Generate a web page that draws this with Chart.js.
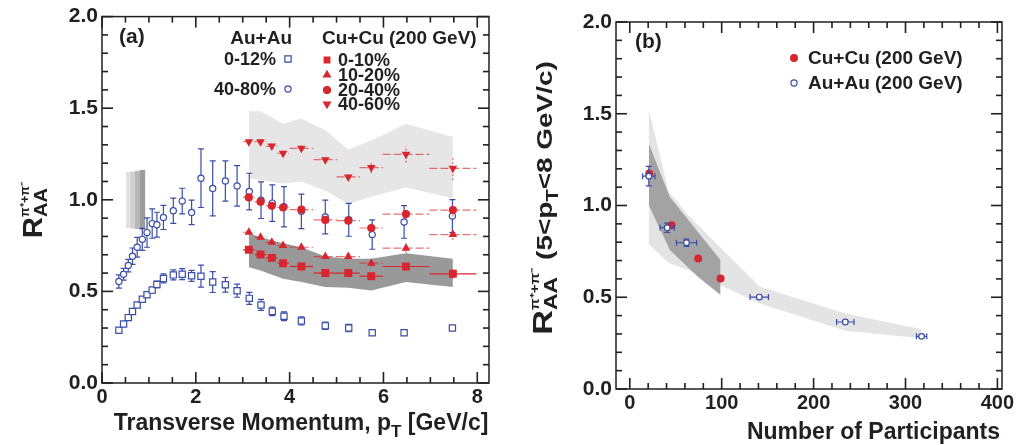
<!DOCTYPE html>
<html>
<head>
<meta charset="utf-8">
<script src="https://cdn.jsdelivr.net/npm/chart.js@4.4.1/dist/chart.umd.min.js"></script>
<style>
html, body { margin: 0; padding: 0; background: #fff; }
#wrap { position: relative; width: 1019px; height: 445px; overflow: hidden; }
#chartA { position: absolute; left: 0; top: 0; }
#chartB { position: absolute; left: 510px; top: 0; }
</style>
</head>
<body>
<div id="wrap">
  <canvas id="chartA" width="510" height="445"></canvas>
  <canvas id="chartB" width="509" height="445"></canvas>
</div>
<script>
// ---- panel (a): R_AA vs pT ----
const ptAu = [0.36, 0.46, 0.56, 0.65, 0.75, 0.86, 0.96, 1.07, 1.17, 1.31, 1.52, 1.71, 1.91, 2.11,
  2.36, 2.63, 2.88, 3.14, 3.39, 3.63, 3.88, 4.25, 4.76, 5.26, 5.76, 6.44, 7.47];
const raaAu0_12 = [0.288, 0.322, 0.357, 0.390, 0.426, 0.457, 0.482, 0.507, 0.538, 0.571, 0.590, 0.594,
  0.585, 0.583, 0.551, 0.536, 0.504, 0.462, 0.426, 0.391, 0.364, 0.339, 0.312, 0.300, 0.274, 0.274, 0.300];
const errAu0_12 = [0.01, 0.01, 0.01, 0.01, 0.012, 0.012, 0.014, 0.016, 0.018, 0.025, 0.027, 0.03,
  0.03, 0.06, 0.057, 0.04, 0.036, 0.033, 0.03, 0.023, 0.024, 0.022, 0.02, 0.02, 0.012, 0.012, 0.012];
const raaAu40_80 = [0.554, 0.594, 0.641, 0.692, 0.741, 0.784, 0.821, 0.870, 0.864, 0.904, 0.940, 0.993,
  0.931, 1.118, 1.062, 1.103, 1.076, 1.045, 0.998, 0.982, 0.962, 0.937, 0.906, 0.891, 0.810, 0.879, 0.911];
const errAu40_80 = [0.036, 0.032, 0.034, 0.045, 0.054, 0.06, 0.08, 0.08, 0.068, 0.066, 0.069, 0.07,
  0.067, 0.16, 0.15, 0.11, 0.11, 0.10, 0.10, 0.10, 0.11, 0.094, 0.092, 0.09, 0.08, 0.089, 0.09];

const ptCu = [3.13, 3.38, 3.62, 3.86, 4.25, 4.76, 5.25, 5.74, 6.48, 7.48];
const ptCuHalfBin = [0.125, 0.125, 0.125, 0.125, 0.25, 0.25, 0.25, 0.25, 0.5, 0.5];
const raaCu0_10 = [0.727, 0.701, 0.683, 0.654, 0.636, 0.600, 0.600, 0.583, 0.636, 0.596];
const raaCu10_20 = [0.823, 0.795, 0.768, 0.750, 0.741, 0.690, 0.690, 0.654, 0.736, 0.810];
const raaCu20_40 = [1.013, 0.989, 0.967, 0.958, 0.946, 0.890, 0.886, 0.846, 0.922, 0.944];
const raaCu40_60 = [1.317, 1.317, 1.293, 1.254, 1.281, 1.219, 1.125, 1.176, 1.248, 1.172];
const errCu0_10 = [0.01, 0.01, 0.01, 0.01, 0.01, 0.012, 0.012, 0.015, 0.02, 0.025];
const errCu10_20 = [0.012, 0.012, 0.012, 0.012, 0.012, 0.015, 0.015, 0.02, 0.025, 0.03];
const errCu20_40 = [0.012, 0.012, 0.012, 0.015, 0.015, 0.018, 0.02, 0.025, 0.03, 0.035];
const errCu40_60 = [0.012, 0.012, 0.015, 0.015, 0.015, 0.02, 0.02, 0.03, 0.045, 0.065];

// systematic bands (a)
const bandPt = [3.13, 3.38, 3.86, 4.25, 4.76, 5.25, 5.74, 6.48, 7.48];
const band40_60Hi = [1.484, 1.484, 1.415, 1.444, 1.379, 1.275, 1.324, 1.415, 1.343];
const band40_60Lo = [1.118, 1.107, 1.089, 1.100, 1.049, 0.977, 1.016, 1.067, 1.009];
const band0_10Hi = [0.817, 0.795, 0.763, 0.741, 0.690, 0.678, 0.678, 0.708, 0.678];
const band0_10Lo = [0.632, 0.614, 0.569, 0.551, 0.524, 0.520, 0.505, 0.551, 0.524];

// normalisation boxes near R_AA = 1
const normBoxEdges = [0.51, 0.60, 0.70, 0.81, 0.92];
const normBoxHi = [1.152, 1.154, 1.158, 1.163];
const normBoxLo = [0.846, 0.843, 0.840, 0.837];

const xTicksA = [0, 2, 4, 6, 8];
const yTicks = [0, 0.5, 1.0, 1.5, 2.0];

// ---- panel (b): R_AA vs Npart ----
const npartCu = [21.1, 45.4, 74.4, 98.8];
const raaNpartCu = [1.174, 0.893, 0.711, 0.602];
const npartAu = [20.7, 40.7, 61.7, 140.9, 234.5, 317.5];
const npartAuErr = [6.7, 7.8, 11, 10, 9.5, 5.6];
const raaNpartAu = [1.160, 0.879, 0.797, 0.501, 0.365, 0.287];
const raaNpartAuErr = [0.053, 0.025, 0.02, 0.01, 0.008, 0.008];

const bandAuNpart = [20.7, 42.0, 63.5, 141.6, 234.5, 317.5];
const bandAuHi = [1.522, 1.08, 0.947, 0.557, 0.412, 0.325];
const bandAuLo = [0.789, 0.688, 0.647, 0.466, 0.318, 0.276];
const bandCuNpart = [20.7, 43.6, 74.4, 98.8];
const bandCuHi = [1.337, 1.047, 0.854, 0.702];
const bandCuLo = [1.002, 0.757, 0.611, 0.512];

const xTicksB = [0, 100, 200, 300, 400];

// ---- style ----
const INK = '#231f20';
const RED = '#d7262d';
const RED_LIGHT = 'rgba(215, 38, 45, 0.65)';
const BLUE = '#3a4da8';
const FONT = '"Liberation Sans", Arial, sans-serif';

const pts = (xs, ys) => xs.map((x, i) => ({ x: x, y: ys[i] }));

function band(xs, hi, lo, color, order) {
    return [
        { data: pts(xs, hi), fill: '+1', backgroundColor: color, borderWidth: 0, pointRadius: 0, order: order },
        { data: pts(xs, lo), fill: false, borderWidth: 0, pointRadius: 0, order: order },
    ];
}

// text with sub/superscripts; seg.over = stack on previous segment
function richText(ctx, segs, x, y, align, angle, stretch) {
    let w = 0, lastStart = 0, lastW = 0;
    const pos = [];
    segs.forEach(s => {
        ctx.font = 'bold ' + s.size + 'px ' + FONT;
        const sw = ctx.measureText(s.t).width;
        if (s.over) {
            pos.push(lastStart);
            lastW = Math.max(lastW, sw);
            w = lastStart + lastW;
        } else {
            lastStart = w; lastW = sw;
            pos.push(w);
            w += sw;
        }
    });
    ctx.save();
    ctx.translate(x, y);
    ctx.rotate(angle || 0);
    ctx.scale(stretch || 1, 1);
    const x0 = align === 'center' ? -w / 2 : (align === 'right' ? -w : 0);
    ctx.fillStyle = INK;
    ctx.textAlign = 'left';
    ctx.textBaseline = 'alphabetic';
    segs.forEach((s, i) => {
        ctx.font = 'bold ' + s.size + 'px ' + FONT;
        ctx.fillText(s.t, x0 + pos[i], s.dy || 0);
    });
    ctx.restore();
}

function plainText(ctx, t, x, y, size, align) {
    ctx.save();
    ctx.font = 'bold ' + size + 'px ' + FONT;
    ctx.fillStyle = INK;
    ctx.textAlign = align || 'left';
    ctx.textBaseline = 'middle';
    ctx.fillText(t, x, y);
    ctx.restore();
}

function marker(ctx, style, x, y, r, fill, stroke, rot) {
    ctx.save();
    ctx.fillStyle = fill;
    ctx.strokeStyle = stroke;
    ctx.lineWidth = 1.2;
    Chart.helpers.drawPoint(ctx, { pointStyle: style, radius: r, rotation: rot || 0, borderWidth: 1.2 }, x, y);
    ctx.restore();
}

// error bars drawn just before each dataset
const errorBars = {
    id: 'errorBars',
    beforeDatasetDraw(chart, args) {
        const ds = chart.data.datasets[args.index];
        if (!ds.errY && !ds.errX) return;
        const { ctx } = chart;
        const xs = chart.scales.x, ys = chart.scales.y;
        ctx.save();
        ctx.lineWidth = 1.2;
        args.meta.data.forEach((el, i) => {
            const d = ds.data[i];
            const cap = ds.errCap || 0;
            if (ds.errX && ds.errX[i]) {
                const x0 = xs.getPixelForValue(d.x - ds.errX[i]);
                const x1 = xs.getPixelForValue(d.x + ds.errX[i]);
                ctx.setLineDash(ds.errDashX || []);
                ctx.strokeStyle = ds.errColor || ds.borderColor;
                ctx.beginPath();
                ctx.moveTo(x0, el.y); ctx.lineTo(x1, el.y);
                if (cap) {
                    ctx.moveTo(x0, el.y - cap); ctx.lineTo(x0, el.y + cap);
                    ctx.moveTo(x1, el.y - cap); ctx.lineTo(x1, el.y + cap);
                }
                ctx.stroke();
            }
            if (ds.errY && ds.errY[i]) {
                const y0 = ys.getPixelForValue(d.y - ds.errY[i]);
                const y1 = ys.getPixelForValue(d.y + ds.errY[i]);
                ctx.setLineDash(ds.errDashY || []);
                ctx.strokeStyle = ds.errColor || ds.borderColor;
                ctx.beginPath();
                ctx.moveTo(el.x, y0); ctx.lineTo(el.x, y1);
                if (cap) {
                    ctx.moveTo(el.x - cap, y0); ctx.lineTo(el.x + cap, y0);
                    ctx.moveTo(el.x - cap, y1); ctx.lineTo(el.x + cap, y1);
                }
                ctx.stroke();
            }
        });
        ctx.restore();
    }
};

// frame with inward major/minor ticks on all four sides, plus panel text
function frameTicks(cfg) {
    return {
        id: 'frameTicks',
        afterDraw(chart) {
            const ctx = chart.ctx;
            const a = chart.chartArea;
            const sx = chart.scales.x, sy = chart.scales.y;
            const L = a.left, R = a.right, T = a.top, B = a.bottom;
            ctx.save();
            ctx.fillStyle = INK;
            const k0 = Math.ceil(cfg.xLo / cfg.xMinor - 1e-6);
            const k1 = Math.floor(cfg.xHi / cfg.xMinor + 1e-6);
            for (let k = k0; k <= k1; k++) {
                const px = sx.getPixelForValue(k * cfg.xMinor);
                const len = (k % cfg.xPerMajor === 0) ? 11 : 6;
                ctx.fillRect(px - 0.8, B - len, 1.6, len);
                ctx.fillRect(px - 0.8, T, 1.6, len);
            }
            const n = Math.round((cfg.yHi - cfg.yLo) / cfg.yMinor);
            for (let k = 0; k <= n; k++) {
                const py = sy.getPixelForValue(cfg.yLo + k * cfg.yMinor);
                const len = (k % cfg.yPerMajor === 0) ? 11 : 6;
                ctx.fillRect(L, py - 0.8, len, 1.6);
                ctx.fillRect(R - len, py - 0.8, len, 1.6);
            }
            ctx.strokeStyle = INK;
            ctx.lineWidth = 1.5;
            ctx.strokeRect(L, T, R - L, B - T);
            ctx.restore();
            cfg.decor(chart);
        }
    };
}

function normBoxes(show) {
    return {
        id: 'normBoxes',
        beforeDatasetsDraw(chart) {
            if (!show) return;
            const ctx = chart.ctx, x = chart.scales.x, y = chart.scales.y;
            const shades = ['#e2e2e2', '#d0d0d0', '#b8b8b8', '#9c9c9c'];
            ctx.save();
            normBoxHi.forEach((hi, i) => {
                const x0 = x.getPixelForValue(normBoxEdges[i]);
                const x1 = x.getPixelForValue(normBoxEdges[i + 1]);
                const y0 = y.getPixelForValue(hi);
                const y1 = y.getPixelForValue(normBoxLo[i]);
                ctx.fillStyle = shades[i];
                ctx.fillRect(x0, y0, x1 - x0, y1 - y0);
            });
            ctx.restore();
        }
    };
}

function tickFont(size) {
    return { family: FONT, size: size, weight: 'bold' };
}

function makeScales(xMin, xMax, xTicks, xFit, yFit, xPad, yPad) {
    return {
        x: {
            type: 'linear', min: xMin, max: xMax,
            grid: { display: false, drawTicks: false }, border: { display: false },
            afterBuildTicks: s => { s.ticks = xTicks.map(v => ({ value: v })); },
            afterFit: s => { s.height = xFit; },
            ticks: { color: INK, font: tickFont(20), padding: xPad, maxRotation: 0, autoSkip: false,
                callback: v => String(v) },
        },
        y: {
            type: 'linear', min: 0, max: 2,
            grid: { display: false, drawTicks: false }, border: { display: false },
            afterBuildTicks: s => { s.ticks = yTicks.map(v => ({ value: v })); },
            afterFit: s => { s.width = yFit; },
            ticks: { color: INK, font: tickFont(21), padding: yPad, callback: v => v.toFixed(1) },
        },
    };
}

// ---------------- chart (a) ----------------
const dsA = [
    ...band(bandPt, band40_60Hi, band40_60Lo, '#e6e6e6', 20),
    ...band(bandPt, band0_10Hi, band0_10Lo, '#999999', 19),
    { data: pts(ptAu, raaAu0_12), showLine: false, pointStyle: 'rect', pointRadius: 4.4, borderWidth: 1.2,
      borderColor: BLUE, pointBackgroundColor: '#fff', errY: errAu0_12, errCap: 3, order: 6 },
    { data: pts(ptAu, raaAu40_80), showLine: false, pointStyle: 'circle', pointRadius: 3.1, borderWidth: 1.2,
      borderColor: BLUE, pointBackgroundColor: '#fff', errY: errAu40_80, errCap: 3, order: 5 },
    { data: pts(ptCu, raaCu0_10), showLine: false, pointStyle: 'rect', pointRadius: 5.6, borderWidth: 0,
      borderColor: RED, pointBackgroundColor: RED, errY: errCu0_10, errX: ptCuHalfBin, errDashY: [2, 2], order: 4 },
    { data: pts(ptCu, raaCu10_20), showLine: false, pointStyle: 'triangle', pointRadius: 5, borderWidth: 0,
      borderColor: RED, pointBackgroundColor: RED, errY: errCu10_20, errX: ptCuHalfBin, errColor: RED_LIGHT,
      errDashX: [8, 3], errDashY: [2, 2], order: 3 },
    { data: pts(ptCu, raaCu20_40), showLine: false, pointStyle: 'circle', pointRadius: 4.1, borderWidth: 0,
      borderColor: RED, pointBackgroundColor: RED, errY: errCu20_40, errX: ptCuHalfBin, errColor: RED_LIGHT,
      errDashX: [8, 3], errDashY: [2, 2], order: 2 },
    { data: pts(ptCu, raaCu40_60), showLine: false, pointStyle: 'triangle', pointRotation: 180,
      pointRadius: 5, borderWidth: 0, borderColor: RED, pointBackgroundColor: RED, errY: errCu40_60,
      errX: ptCuHalfBin, errColor: RED_LIGHT, errDashX: [8, 3], errDashY: [2, 2], order: 1 },
];

function decorA(chart) {
    const ctx = chart.ctx;
    plainText(ctx, '(a)', 119, 37, 21, 'left');
    plainText(ctx, 'Au+Au', 292, 39, 19, 'right');
    plainText(ctx, 'Cu+Cu (200 GeV)', 322, 39, 19, 'left');
    plainText(ctx, '0-12%', 276, 60, 18, 'right');
    plainText(ctx, '40-80%', 276, 90, 18, 'right');
    marker(ctx, 'rect', 288, 59, 4.4, '#fff', BLUE);
    marker(ctx, 'circle', 288, 89, 3.1, '#fff', BLUE);
    marker(ctx, 'rect', 327, 60, 4, RED, RED);
    marker(ctx, 'triangle', 327, 75, 4, RED, RED);
    marker(ctx, 'circle', 327, 90, 3.5, RED, RED);
    marker(ctx, 'triangle', 327, 104, 4, RED, RED, 180);
    plainText(ctx, '0-10%', 338, 61, 18, 'left');
    plainText(ctx, '10-20%', 338, 76, 18, 'left');
    plainText(ctx, '20-40%', 338, 91, 18, 'left');
    plainText(ctx, '40-60%', 338, 105, 18, 'left');
    // axis titles
    richText(ctx, [
        { t: 'Transverse Momentum, p', size: 23 },
        { t: 'T', size: 17, dy: 7 },
        { t: ' [GeV/c]', size: 23 },
    ], 301, 430, 'center');
    richText(ctx, [
        { t: 'R', size: 28 },
        { t: 'AA', size: 19, dy: 5 },
        { t: 'π⁺+π⁻', size: 12, dy: -13, over: true },
    ], 42, 210, 'center', -Math.PI / 2, 1.05);
}

new Chart(document.getElementById('chartA'), {
    type: 'line',
    data: { datasets: dsA },
    options: {
        responsive: false,
        animation: false,
        events: [],
        layout: { padding: { left: 0, right: 21, top: 15, bottom: 0 } },
        scales: makeScales(0, 8.25, xTicksA, 62, 102, 2, 4),
        elements: { line: { tension: 0 } },
        plugins: {
            legend: { display: false },
            tooltip: { enabled: false },
        },
    },
    plugins: [errorBars, normBoxes(true),
        frameTicks({ xLo: 0, xHi: 8.25, xMinor: 0.5, xPerMajor: 4, yLo: 0, yHi: 2, yMinor: 0.1, yPerMajor: 5,
            decor: decorA })],
});

// ---------------- chart (b) ----------------
const dsB = [
    ...band(bandAuNpart, bandAuHi, bandAuLo, '#e4e4e4', 20),
    ...band(bandCuNpart, bandCuHi, bandCuLo, '#a3a3a3', 19),
    { data: pts(npartCu, raaNpartCu), showLine: false, pointStyle: 'circle', pointRadius: 4, borderWidth: 0,
      borderColor: RED, pointBackgroundColor: RED, order: 3 },
    { data: pts(npartAu, raaNpartAu), showLine: false, pointStyle: 'circle', pointRadius: 2.8, borderWidth: 1.2,
      borderColor: BLUE, pointBackgroundColor: '#fff', errY: raaNpartAuErr, errX: npartAuErr, errCap: 3, order: 2 },
];

function decorB(chart) {
    const ctx = chart.ctx;
    plainText(ctx, '(b)', 125, 42, 21, 'left');
    marker(ctx, 'circle', 284, 58, 3.4, RED, RED);
    marker(ctx, 'circle', 284, 83, 3.1, '#fff', BLUE);
    plainText(ctx, 'Cu+Cu (200 GeV)', 298, 59, 19, 'left');
    plainText(ctx, 'Au+Au (200 GeV)', 298, 84, 19, 'left');
    richText(ctx, [{ t: 'Number of Participants', size: 23 }], 490, 439, 'right');
    richText(ctx, [
        { t: 'R', size: 27 },
        { t: 'AA', size: 18, dy: 5 },
        { t: 'π⁺+π⁻', size: 12, dy: -13, over: true },
        { t: ' (5<p', size: 22 },
        { t: 'T', size: 16, dy: 6 },
        { t: '<8 GeV/c)', size: 22 },
    ], 42, 198, 'center', -Math.PI / 2, 1.27);
}

new Chart(document.getElementById('chartB'), {
    type: 'line',
    data: { datasets: dsB },
    options: {
        responsive: false,
        animation: false,
        events: [],
        layout: { padding: { left: 0, right: 17, top: 22, bottom: 0 } },
        scales: makeScales(-15, 405, xTicksB, 56, 106, 2, 4),
        elements: { line: { tension: 0 } },
        plugins: {
            legend: { display: false },
            tooltip: { enabled: false },
        },
    },
    plugins: [errorBars, normBoxes(false),
        frameTicks({ xLo: 0, xHi: 400, xMinor: 20, xPerMajor: 5, yLo: 0, yHi: 2, yMinor: 0.1, yPerMajor: 5,
            decor: decorB })],
});
</script>
</body>
</html>
